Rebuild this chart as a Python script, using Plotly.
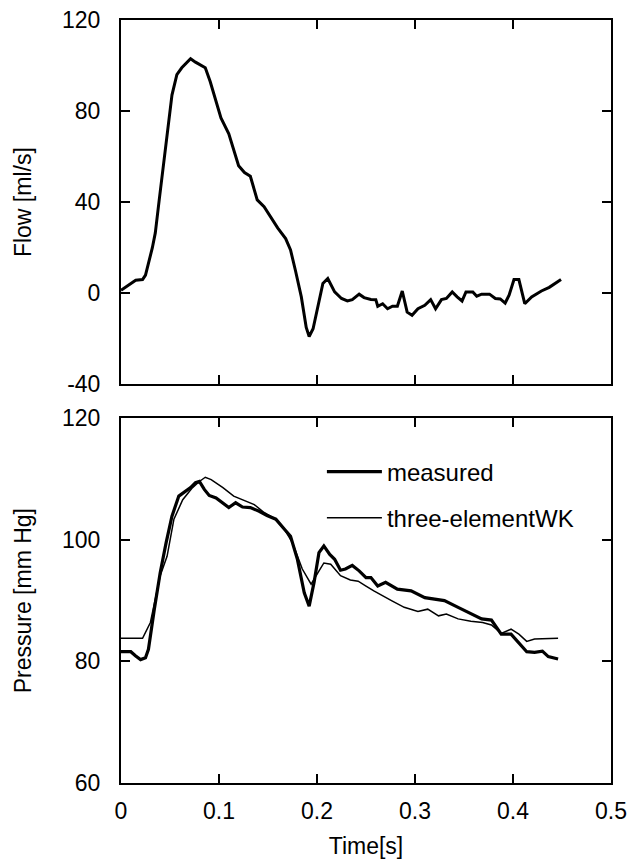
import plotly.graph_objects as go
from plotly.subplots import make_subplots

# ---------------- data ----------------
flow_time = [0.000, 0.010, 0.015, 0.022, 0.025, 0.032, 0.035, 0.039, 0.044, 0.052,
             0.057, 0.062, 0.071, 0.076, 0.086, 0.091, 0.102, 0.110, 0.120, 0.126,
             0.132, 0.139, 0.146, 0.153, 0.160, 0.168, 0.173, 0.178, 0.184, 0.189,
             0.192, 0.196, 0.201, 0.206, 0.211, 0.218, 0.225, 0.231, 0.236, 0.243,
             0.248, 0.255, 0.260, 0.262, 0.267, 0.272, 0.277, 0.282, 0.287, 0.292,
             0.297, 0.303, 0.310, 0.316, 0.321, 0.327, 0.332, 0.338, 0.343, 0.348,
             0.352, 0.359, 0.363, 0.368, 0.376, 0.382, 0.387, 0.392, 0.396, 0.401,
             0.406, 0.412, 0.419, 0.429, 0.437, 0.444, 0.449]
flow_values = [1.3, 4.4, 5.7, 6.0, 8.0, 20, 26.5, 41, 59, 87,
               96, 99, 103, 101.5, 99, 93, 77, 70, 56, 53,
               51.4, 41, 38, 33, 28.6, 24, 19, 10, -1.6, -15,
               -19, -15.6, -6, 4.3, 6.5, 0.6, -2.3, -3.4, -2.8, -0.4,
               -1.9, -2.7, -2.8, -5.7, -4.6, -6.8, -5.7, -5.7, 1, -8.3,
               -9.7, -6.8, -5.3, -2.8, -6.8, -2.8, -2.3, 0.6, -1.6, -3.4,
               0.6, 0.6, -1.3, -0.4, -0.4, -2.3, -2.5, -4.3, -0.9, 6,
               6, -4.6, -1.6, 1, 2.6, 4.4, 6]

meas_time = [0.000, 0.010, 0.015, 0.020, 0.025, 0.028, 0.034, 0.040, 0.046, 0.052,
             0.059, 0.066, 0.071, 0.076, 0.080, 0.085, 0.090, 0.097, 0.104, 0.110,
             0.117, 0.124, 0.132, 0.141, 0.149, 0.158, 0.167, 0.173, 0.180, 0.187,
             0.192, 0.197, 0.202, 0.207, 0.213, 0.218, 0.224, 0.229, 0.236, 0.243,
             0.250, 0.255, 0.262, 0.270, 0.282, 0.296, 0.310, 0.320, 0.330, 0.344,
             0.357, 0.368, 0.378, 0.388, 0.398, 0.406, 0.414, 0.422, 0.430, 0.436,
             0.446]
meas_values = [81.6, 81.6, 80.9, 80.3, 80.6, 82.0, 88.6, 94.6, 99.5, 103.9,
               107.2, 108.0, 108.6, 109.4, 109.6, 108.3, 107.3, 106.9, 106.0, 105.3,
               106.1, 105.4, 105.3, 104.7, 104.0, 103.4, 101.7, 100.6, 96.8, 91.3,
               89.1, 93.0, 97.9, 99.0, 97.6, 96.8, 95.0, 95.2, 95.8, 94.9,
               93.8, 93.8, 92.4, 93.0, 91.9, 91.6, 90.5, 90.3, 90.0, 88.9,
               87.8, 87.0, 86.8, 84.5, 84.5, 83.0, 81.6, 81.5, 81.7, 80.8,
               80.4]

wk_time = [0.000, 0.022, 0.030, 0.040, 0.047, 0.054, 0.063, 0.073, 0.080, 0.086,
           0.092, 0.104, 0.115, 0.126, 0.136, 0.146, 0.156, 0.167, 0.175, 0.185,
           0.194, 0.201, 0.207, 0.214, 0.224, 0.234, 0.242, 0.250, 0.258, 0.276,
           0.289, 0.303, 0.313, 0.324, 0.332, 0.344, 0.357, 0.369, 0.378, 0.388,
           0.398, 0.406, 0.414, 0.422, 0.446]
wk_values = [83.8, 83.8, 86.4, 94.1, 97.3, 103.4, 106.6, 108.6, 109.6, 110.3,
             109.9, 108.6, 107.2, 106.4, 105.8, 104.5, 103.6, 101.7, 99.5, 95.2,
             92.7, 94.6, 96.2, 96.0, 94.1, 93.4, 93.2, 92.4, 91.6, 90.0,
             88.9, 88.2, 88.6, 87.5, 87.8, 87.0, 86.6, 86.4, 86.0, 84.6,
             85.3, 84.5, 83.3, 83.7, 83.8]

x_ticks = [0, 0.1, 0.2, 0.3, 0.4, 0.5]
x_ticktext = ["0", "0.1", "0.2", "0.3", "0.4", "0.5"]
flow_ticks = [-40, 0, 40, 80, 120]
flow_ticktext = ["-40", "0", "40", "80", "120"]
pres_ticks = [60, 80, 100, 120]
pres_ticktext = ["60", "80", "100", "120"]

FONT = "Liberation Sans, Arial, Helvetica, sans-serif"

fig = make_subplots(rows=2, cols=1, vertical_spacing=0.0)

fig.add_trace(go.Scatter(x=flow_time, y=flow_values, mode="lines",
                         line=dict(color="black", width=3), showlegend=False),
              row=1, col=1)
fig.add_trace(go.Scatter(x=meas_time, y=meas_values, mode="lines", name="measured",
                         legendgroup="a",
                         line=dict(color="black", width=3.2)), row=2, col=1)
fig.add_trace(go.Scatter(x=wk_time, y=wk_values, mode="lines", name="three-elementWK",
                         legendgroup="b",
                         line=dict(color="black", width=1.5)), row=2, col=1)

axis_common = dict(showline=True, linecolor="black", linewidth=2, mirror="ticks",
                   ticks="inside", ticklen=9, tickwidth=1.8, tickcolor="black",
                   showgrid=False, zeroline=False,
                   tickfont=dict(family=FONT, size=23, color="black"))

fig.update_xaxes(range=[0, 0.5], tickvals=x_ticks, ticktext=x_ticktext, **axis_common)
fig.update_xaxes(showticklabels=False, row=1, col=1)
fig.update_xaxes(ticklabelstandoff=6,
                 title=dict(text="Time[s]", font=dict(family=FONT, size=23, color="black"),
                            standoff=15),
                 row=2, col=1)

fig.update_yaxes(**axis_common)
fig.update_yaxes(range=[-40, 120], tickvals=flow_ticks, ticktext=flow_ticktext,
                 ticklabelstandoff=14,
                 title=dict(text="Flow [ml/s]", font=dict(family=FONT, size=23, color="black"),
                            standoff=24),
                 row=1, col=1)
fig.update_yaxes(range=[60, 120], tickvals=pres_ticks, ticktext=pres_ticktext,
                 ticklabelstandoff=14,
                 title=dict(text="Pressure [mm Hg]", font=dict(family=FONT, size=23, color="black"),
                            standoff=24),
                 row=2, col=1)

fig.update_layout(
    width=631, height=865,
    margin=dict(l=121, r=20, t=20, b=82, autoexpand=False),
    paper_bgcolor="white", plot_bgcolor="white",
    xaxis=dict(domain=[0, 1]),
    yaxis=dict(domain=[0.5225, 1.0]),
    xaxis2=dict(domain=[0, 1]),
    yaxis2=dict(domain=[0.0, 0.478]),
    legend=dict(x=0.41, y=0.437, xanchor="left", yanchor="top",
                bgcolor="rgba(0,0,0,0)", borderwidth=0,
                font=dict(family=FONT, size=24, color="black"),
                tracegroupgap=12, itemwidth=55),
    showlegend=True,
)

fig.write_html("out.html")
